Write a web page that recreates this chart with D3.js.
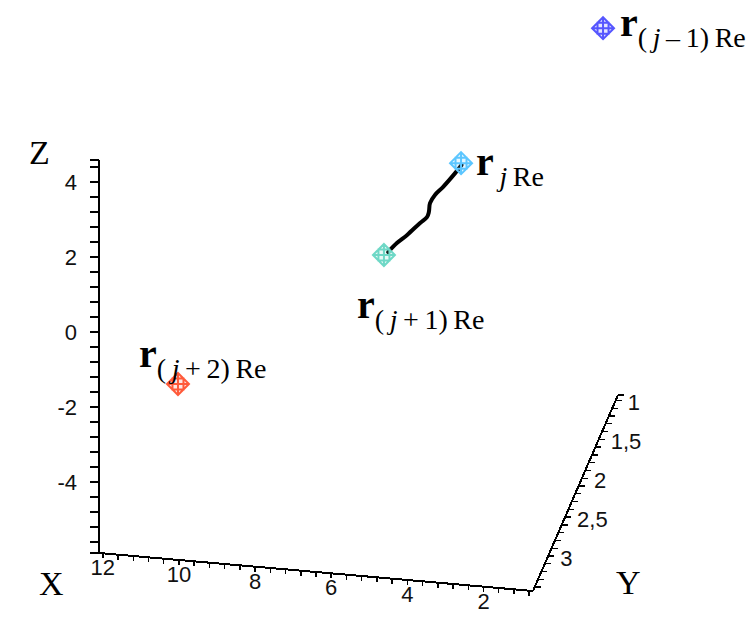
<!DOCTYPE html>
<html><head><meta charset="utf-8">
<script src="https://cdn.jsdelivr.net/npm/d3@7"></script>
<style>body{margin:0;background:#fff}svg{display:block}</style>
</head><body>
<script>
// ---- data ----
const xDomain = [0.7, 12.1];
const yDomain = [0.93, 3.45];
const zDomain = [-5.9, 4.58];
const xTicks = [12, 10, 8, 6, 4, 2];
const yTicks = [1, 1.5, 2, 2.5, 3];
const zTicks = [4, 2, 0, -2, -4];
const pointSub = [["(", "j", "\u2009\u2013\u20091)"], ["", "j", ""], ["(", "j", "\u2009+\u20091)"], ["(", "j", "\u2009+\u20092)"]];
const pointX = [0.145, 3.875, 5.90, 11.31];
const pointY = [2, 2, 2, 2];
const pointZ = [6.15, 2.22, -0.41, -4.33];
const pointColors = ["#5656ff", "#5cc6ff", "#6ed8c6", "#ff5a3a"];
const curveX = [3.86, 4.03, 4.35, 4.56, 4.69, 4.72, 4.77, 4.95, 5.29, 5.56, 5.79];
const curveY = [2, 2, 2, 2, 2, 2, 2, 2, 2, 2, 2];
const curveZ = [2.17, 1.94, 1.54, 1.31, 1.08, 0.84, 0.70, 0.53, 0.18, -0.06, -0.32];

// ---- layout ----
const W = 751, H = 624;
const origin = [533, 591];
const VX = [-434, -38], VY = [85, -196], VZ = [0, -393];
const sx = d3.scaleLinear().domain(xDomain).range([0, 1]);
const sy = d3.scaleLinear().domain([yDomain[1], yDomain[0]]).range([0, 1]);
const sz = d3.scaleLinear().domain(zDomain).range([0, 1]);
function P(x, y, z) {
  const a = sx(x), b = sy(y), c = sz(z);
  return [origin[0] + a * VX[0] + b * VY[0] + c * VZ[0],
          origin[1] + a * VX[1] + b * VY[1] + c * VZ[1]];
}
const fmt = d3.formatLocale({decimal: ",", thousands: ".", grouping: [3], currency: ["", ""], minus: "-"}).format("~g");

const svg = d3.select("body").append("svg").attr("width", W).attr("height", H);
const tickFont = "'Liberation Sans', Arial, sans-serif";
const serif = "'Liberation Serif', 'Times New Roman', serif";

const [xMin, xMax] = xDomain, [yMin, yMax] = yDomain, [zMin, zMax] = zDomain;
const axes = svg.append("g").attr("stroke", "#000").attr("fill", "none").attr("shape-rendering", "crispEdges");
function seg(a, b, w) { axes.append("line").attr("x1", a[0]).attr("y1", a[1]).attr("x2", b[0]).attr("y2", b[1]).attr("stroke-width", w); }

// axis lines
seg(P(xMin, yMax, zMin), P(xMax, yMax, zMin), 2);
seg(P(xMax, yMax, zMin), P(xMax, yMax, zMax), 2);
seg(P(xMin, yMax, zMin), P(xMin, yMin, zMin), 2);

// minor ticks
const zMinor = d3.range(4.4, zMin, -0.4).concat([zMax, zMin]);
zMinor.forEach(z => { const p = P(xMax, yMax, z); seg(p, [p[0] - 9, p[1]], 1.5); });
const xMinor = d3.range(12, xMin, -0.4);
xMinor.forEach(x => { const p = P(x, yMax, zMin); seg(p, [p[0], p[1] + 5], 1.5); });
const yMinor = d3.range(1, yMax, 0.1).concat([yMin]);
yMinor.forEach(y => { const p = P(xMin, y, zMin); seg(p, [p[0] + 6, p[1]], 1.3); });

// tick labels
const tl = svg.append("g").attr("font-family", tickFont).attr("font-size", 22).attr("fill", "#111");
zTicks.forEach(z => { const p = P(xMax, yMax, z);
  tl.append("text").attr("x", p[0] - 22).attr("y", p[1] + 8).attr("text-anchor", "end").text(fmt(z)); });
xTicks.forEach(x => { const p = P(x, yMax, zMin);
  tl.append("text").attr("x", p[0]).attr("y", p[1] + 22).attr("text-anchor", "middle").text(fmt(x)); });
yTicks.forEach(y => { const p = P(xMin, y, zMin);
  tl.append("text").attr("x", p[0] + 12).attr("y", p[1] + 10).attr("text-anchor", "start").text(fmt(y)); });

// axis titles
const at = svg.append("g").attr("font-family", serif).attr("font-size", 34).attr("fill", "#000");
const zt = P(xMax, yMax, zMax); at.append("text").attr("x", zt[0] - 70).attr("y", zt[1] + 4).text("Z");
const xt = P(xMax, yMax, zMin); at.append("text").attr("x", xt[0] - 60).attr("y", xt[1] + 42).text("X");
const yt = P(xMin, yMax, zMin); at.append("text").attr("x", yt[0] + 83).attr("y", yt[1] + 3).text("Y");

// curve
const line = d3.line().curve(d3.curveCatmullRom);
svg.append("path").attr("d", line(curveX.map((x, i) => P(x, curveY[i], curveZ[i]))))
  .attr("fill", "none").attr("stroke", "#000").attr("stroke-width", 4).attr("stroke-linecap", "round");

// markers
const s = 11;
const mpath = `M0,${-s}L${s},0L0,${s}L${-s},0Z M0,${-s}V${s} M${-s},0H${s} M${-s/2},${-s/2}L${s/2},${-s/2}L${s/2},${s/2}L${-s/2},${s/2}Z`;
const labelOff = [[17, 8], [15, 12], [-27, 63], [-39, -17]];
pointX.forEach((x, i) => {
  const p = P(x, pointY[i], pointZ[i]);
  svg.append("path").attr("transform", `translate(${p[0]},${p[1]})`).attr("d", mpath)
    .attr("fill", pointColors[i]).attr("fill-opacity", 0.15)
    .attr("stroke", pointColors[i]).attr("stroke-width", 2);
  const t = svg.append("text").attr("x", p[0] + labelOff[i][0]).attr("y", p[1] + labelOff[i][1])
    .attr("font-family", serif).attr("fill", "#000");
  t.append("tspan").attr("font-size", 40).attr("font-weight", "bold").text("r");
  const sub = pointSub[i];
  const g = t.append("tspan").attr("font-size", 28).attr("dy", 11);
  g.append("tspan").text(sub[0]);
  g.append("tspan").attr("font-style", "italic").text((sub[0] ? "\u2009" : "\u2009") + sub[1]);
  g.append("tspan").text(sub[2] + "\u2009Re");
});
</script>
</body></html>
